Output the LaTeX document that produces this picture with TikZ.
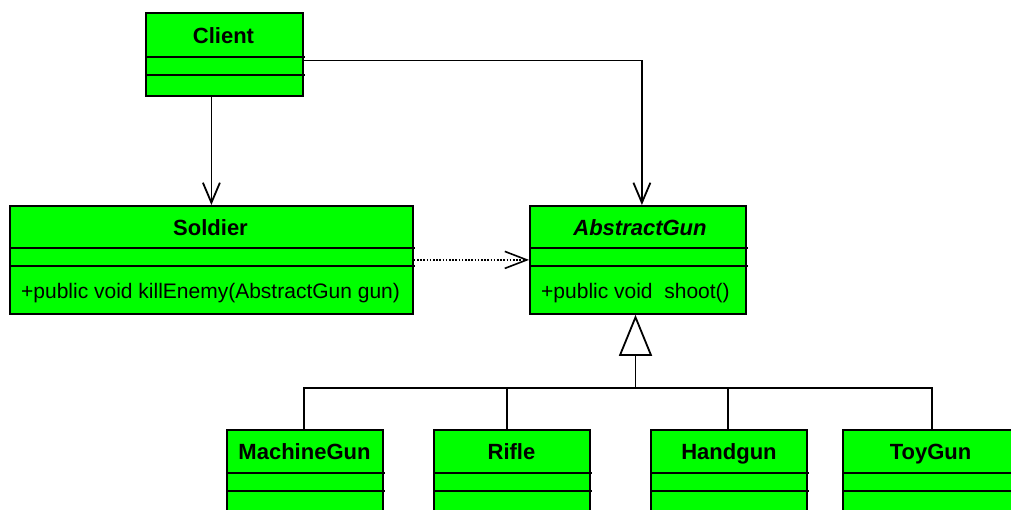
\documentclass[tikz,border=0pt]{standalone}
\usepackage{fontspec}
\setmainfont{Liberation Sans}
\usetikzlibrary{arrows.meta}
\definecolor{umlgreen}{RGB}{0,255,0}
\tikzset{
  classbox/.style={draw=black, fill=umlgreen, line width=1.8pt, rectangle, inner sep=0pt, anchor=north west},
  divider/.style={line width=1.8pt},
  titletext/.style={font=\bfseries\fontsize{22}{26}\selectfont, inner sep=0pt, anchor=base},
  optext/.style={font=\fontsize{21}{25}\selectfont, inner sep=0pt, anchor=base west},
  assoc/.style={line width=1.8pt, -{Straight Barb[length=20pt,width=17pt]}},
  dep/.style={line width=1.6pt, dash pattern=on 1.6pt off 1.6pt, -{Straight Barb[length=22pt,width=17pt,sep=0pt]}},
  genline/.style={line width=1.8pt},
  genarrow/.style={line width=1.8pt, -{Triangle[open, length=41pt, width=33pt]}}
}
\begin{document}
\begin{tikzpicture}[x=1pt,y=-1pt]
\useasboundingbox (0,0) rectangle (1011,509);
\clip (0,0) rectangle (1011,509);
% Client
\node[classbox, minimum width=157pt, minimum height=83pt] (client) at (145,12) {};
\draw[divider] (145,57) -- (305,57);
\draw[divider] (145,75) -- (305,75);
\node[titletext] (clientT) at (223.5,43) {Client};
% Soldier
\node[classbox, minimum width=403pt, minimum height=108pt] (soldier) at (9,205) {};
\draw[divider] (9,248) -- (415,248);
\draw[divider] (9,266) -- (415,266);
\node[titletext] (soldierT) at (210.5,235) {Soldier};
\node[optext] (soldierM) at (21,298) {+public void killEnemy(AbstractGun gun)};
% AbstractGun
\node[classbox, minimum width=216pt, minimum height=108pt] (gun) at (529,205) {};
\draw[divider] (529,248) -- (748,248);
\draw[divider] (529,266) -- (748,266);
\node[titletext, font=\bfseries\itshape\fontsize{22}{26}\selectfont] (gunT) at (640,235) {AbstractGun};
\node[optext] (gunM) at (541,298) {+public void\ \ shoot()};
% MachineGun
\node[classbox, minimum width=156pt, minimum height=110pt] (mg) at (226,429) {};
\draw[divider] (226,473) -- (385,473);
\draw[divider] (226,491) -- (385,491);
\node[titletext] (mgT) at (304.5,459) {MachineGun};
% Rifle
\node[classbox, minimum width=156pt, minimum height=110pt] (rifle) at (433,429) {};
\draw[divider] (433,473) -- (592,473);
\draw[divider] (433,491) -- (592,491);
\node[titletext] (rifleT) at (511.5,459) {Rifle};
% Handgun
\node[classbox, minimum width=156pt, minimum height=110pt] (hg) at (650,429) {};
\draw[divider] (650,473) -- (809,473);
\draw[divider] (650,491) -- (809,491);
\node[titletext] (hgT) at (729,459) {Handgun};
% ToyGun
\node[classbox, minimum width=178pt, minimum height=110pt] (toy) at (842,429) {};
\draw[divider] (842,473) -- (1023,473);
\draw[divider] (842,491) -- (1023,491);
\node[titletext] (toyT) at (930.5,459) {ToyGun};
% Connectors
\draw[assoc] (soldier.north |- client.south) -- (soldier.north);
\draw[assoc] ([yshift=-6pt]client.east) -| ([xshift=4pt]gun.north);
\draw[dep] (soldier.east) -- (gun.west);
\coordinate (hub) at (635.5,388);
\draw[genarrow] (hub) -- (gun.south -| hub);
\draw[genline] ([xshift=-1pt]mg.north) |- (hub);
\draw[genline] ([xshift=-5pt]rifle.north) -- ++(0,-41);
\draw[genline] ([xshift=-1pt]hg.north) |- (hub);
\draw[genline] (toy.north) |- (hub);
\end{tikzpicture}
\end{document}
